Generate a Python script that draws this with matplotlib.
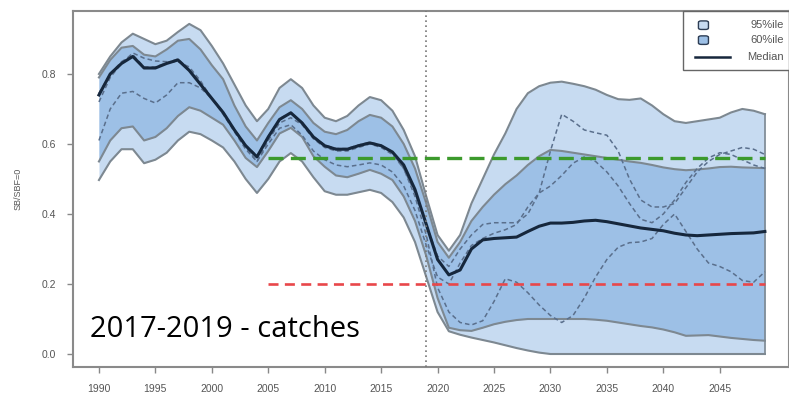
import matplotlib
matplotlib.use("Agg")
import matplotlib.pyplot as plt
from matplotlib.patches import Rectangle, FancyBboxPatch
from matplotlib.lines import Line2D

years = list(range(1990, 2050))

upper95 = [0.80, 0.85, 0.89, 0.915, 0.90, 0.885, 0.895, 0.92, 0.943, 0.925,
           0.88, 0.83, 0.77, 0.71, 0.665, 0.70, 0.76, 0.785, 0.76, 0.71,
           0.675, 0.665, 0.68, 0.71, 0.734, 0.725, 0.695, 0.64, 0.565, 0.45,
           0.34, 0.295, 0.34, 0.43, 0.50, 0.57, 0.63, 0.70, 0.745, 0.765,
           0.775, 0.778, 0.772, 0.765, 0.755, 0.74, 0.728, 0.726, 0.73, 0.71,
           0.685, 0.665, 0.66, 0.665, 0.67, 0.675, 0.69, 0.70, 0.695, 0.685]

upper60 = [0.79, 0.84, 0.875, 0.88, 0.855, 0.85, 0.87, 0.895, 0.90, 0.87,
           0.825, 0.785, 0.71, 0.65, 0.61, 0.66, 0.705, 0.725, 0.70, 0.66,
           0.635, 0.628, 0.64, 0.665, 0.683, 0.675, 0.65, 0.60, 0.53, 0.43,
           0.32, 0.275, 0.32, 0.38, 0.42, 0.455, 0.485, 0.51, 0.54, 0.565,
           0.583, 0.58, 0.575, 0.57, 0.565, 0.56, 0.555, 0.55, 0.546, 0.54,
           0.533, 0.528, 0.525, 0.527, 0.53, 0.534, 0.535, 0.533, 0.532, 0.531]

median = [0.74, 0.80, 0.83, 0.85, 0.817, 0.817, 0.83, 0.84, 0.81, 0.77,
          0.73, 0.69, 0.64, 0.595, 0.563, 0.62, 0.67, 0.689, 0.66, 0.62,
          0.595, 0.585, 0.585, 0.595, 0.603, 0.595, 0.577, 0.54, 0.47, 0.37,
          0.27, 0.226, 0.24, 0.30, 0.326, 0.33, 0.332, 0.334, 0.35, 0.365,
          0.374, 0.374, 0.376, 0.38, 0.382, 0.378, 0.372, 0.366, 0.36, 0.356,
          0.352, 0.345, 0.34, 0.338, 0.34, 0.342, 0.344, 0.345, 0.346, 0.35]

lower60 = [0.55, 0.61, 0.645, 0.65, 0.61, 0.62, 0.645, 0.68, 0.705, 0.695,
           0.675, 0.655, 0.61, 0.56, 0.534, 0.58, 0.63, 0.646, 0.62, 0.565,
           0.535, 0.51, 0.505, 0.515, 0.526, 0.515, 0.497, 0.45, 0.38, 0.28,
           0.16, 0.075, 0.068, 0.066, 0.075, 0.085, 0.092, 0.097, 0.10, 0.10,
           0.10, 0.10, 0.10, 0.10, 0.098, 0.095, 0.09, 0.085, 0.08, 0.076,
           0.07, 0.062, 0.052, 0.053, 0.054, 0.05, 0.046, 0.043, 0.04, 0.038]

lower95 = [0.497, 0.55, 0.585, 0.585, 0.545, 0.555, 0.575, 0.61, 0.635, 0.628,
           0.61, 0.59, 0.55, 0.50, 0.46, 0.50, 0.55, 0.574, 0.55, 0.505,
           0.465, 0.455, 0.455, 0.462, 0.469, 0.46, 0.434, 0.39, 0.32, 0.22,
           0.12, 0.065, 0.055, 0.047, 0.04, 0.033, 0.025, 0.017, 0.01, 0.004,
           0.0, 0.0, 0.0, 0.0, 0.0, 0.0, 0.0, 0.0, 0.0, 0.0,
           0.0, 0.0, 0.0, 0.0, 0.0, 0.0, 0.0, 0.0, 0.0, 0.0]

# individual simulated trajectories ("worms")
worm_a = [0.72, 0.79, 0.83, 0.86, 0.845, 0.837, 0.835, 0.835, 0.82, 0.78,
          0.73, 0.685, 0.635, 0.585, 0.55, 0.61, 0.66, 0.675, 0.655, 0.615,
          0.59, 0.58, 0.58, 0.59, 0.60, 0.59, 0.57, 0.53, 0.46, 0.37,
          0.28, 0.25, 0.30, 0.34, 0.37, 0.375, 0.375, 0.375, 0.40, 0.46,
          0.58, 0.685, 0.665, 0.64, 0.632, 0.625, 0.58, 0.50, 0.44, 0.42,
          0.42, 0.43, 0.475, 0.52, 0.55, 0.57, 0.58, 0.59, 0.585, 0.57]

worm_b = [0.61, 0.70, 0.745, 0.75, 0.73, 0.717, 0.74, 0.775, 0.775, 0.76,
          0.73, 0.69, 0.64, 0.59, 0.55, 0.60, 0.645, 0.655, 0.625, 0.58,
          0.555, 0.54, 0.535, 0.54, 0.546, 0.54, 0.52, 0.48, 0.41, 0.31,
          0.22, 0.20, 0.26, 0.31, 0.33, 0.345, 0.355, 0.37, 0.42, 0.46,
          0.48, 0.51, 0.545, 0.563, 0.55, 0.52, 0.48, 0.43, 0.385, 0.375,
          0.40, 0.44, 0.49, 0.53, 0.56, 0.575, 0.57, 0.555, 0.54, 0.53]

worm_c = [0.745, 0.80, 0.835, 0.855, 0.82, 0.82, 0.832, 0.843, 0.812, 0.772,
          0.732, 0.692, 0.642, 0.597, 0.566, 0.622, 0.672, 0.69, 0.662, 0.622,
          0.597, 0.587, 0.587, 0.597, 0.605, 0.597, 0.575, 0.53, 0.45, 0.34,
          0.19, 0.12, 0.09, 0.083, 0.095, 0.15, 0.215, 0.205, 0.175, 0.14,
          0.11, 0.09, 0.11, 0.16, 0.22, 0.27, 0.305, 0.318, 0.32, 0.33,
          0.37, 0.40, 0.35, 0.30, 0.26, 0.25, 0.235, 0.21, 0.205, 0.235]

target_ref = 0.56
limit_ref = 0.2
ref_years = [2005, 2049]
current_year = 2019

x_ticks = list(range(1990, 2050, 5))
y_ticks = [0.0, 0.2, 0.4, 0.6, 0.8]

plt.rcParams['font.family'] = ['Liberation Sans', 'DejaVu Sans']

c95 = "#c7dbf1"
c60 = "#9dc0e6"
edge = "#7d8891"
grey_txt = "#555555"

fig = plt.figure(figsize=(7.89, 3.98), dpi=100)
ax = fig.add_axes([0.0925, 0.078, 0.907, 0.8945])

ax.fill_between(years, lower95, upper95, color=c95, lw=0, zorder=1)
ax.fill_between(years, lower60, upper60, color=c60, lw=0, zorder=2)
for s in (upper95, lower95, upper60, lower60):
    ax.plot(years, s, color=edge, lw=1.5, zorder=3)
# close the band at the last year
ax.plot([years[-1], years[-1]], [lower95[-1], upper95[-1]], color=edge, lw=1.2, zorder=3)

for w in (worm_a, worm_b, worm_c):
    ax.plot(years, w, color="#5a6f8c", lw=1.1, ls=(0, (3, 2)), zorder=4)

ax.plot(years, median, color="#16273c", lw=2.2, zorder=5)

ax.plot(ref_years, [target_ref, target_ref], color="#3c9a2c", lw=2.4,
        ls=(0, (4.5, 2.2)), zorder=6)
ax.plot(ref_years, [limit_ref, limit_ref], color="#e8474a", lw=1.9,
        ls=(0, (3.8, 2.4)), zorder=6)
ax.axvline(current_year, color="#777777", lw=1.2, ls=(0, (1, 2)), zorder=6)

ax.set_xlim(1987.7, 2051.1)
ax.set_ylim(-0.037, 0.98)
ax.set_xticks(x_ticks)
ax.set_yticks(y_ticks)
ax.set_xticklabels([str(v) for v in x_ticks])
ax.set_yticklabels([f"{v:.1f}" for v in y_ticks])
ax.tick_params(axis="both", direction="out", length=4, width=1.0,
               color="#888888", labelcolor=grey_txt, labelsize=7.5, pad=8)
for sp in ax.spines.values():
    sp.set_color("#8a8a8a")
    sp.set_linewidth(1.5)

ax.set_ylabel("SB/SBF=0", fontsize=6.5, color=grey_txt, labelpad=14)

ax.text(0.024, 0.085, "2017-2019 - catches", transform=ax.transAxes,
        fontsize=21, color="black", family=["Open Sans", "DejaVu Sans"],
        ha="left", va="baseline", zorder=8)

# legend box
ax.add_patch(Rectangle((0.853, 0.834), 0.147, 0.166, transform=ax.transAxes,
                       facecolor="white", edgecolor="#666666", lw=1.0, zorder=9,
                       clip_on=False))
for yy, col in ((0.96, c95), (0.918, c60)):
    ax.add_patch(FancyBboxPatch((0.876, yy - 0.01), 0.01, 0.02,
                                boxstyle="round,pad=0.002,rounding_size=0.004",
                                transform=ax.transAxes, facecolor=col,
                                edgecolor="#2e3e55", lw=1.0, zorder=10))
ax.add_line(Line2D([0.869, 0.918], [0.87, 0.87], transform=ax.transAxes,
                   color="#16273c", lw=1.8, zorder=10))
for yy, lab in ((0.96, "95%ile"), (0.918, "60%ile"), (0.87, "Median")):
    ax.text(0.993, yy, lab, transform=ax.transAxes, ha="right", va="center",
            fontsize=8, color=grey_txt, zorder=10)

fig.savefig("out.png", dpi=100)
